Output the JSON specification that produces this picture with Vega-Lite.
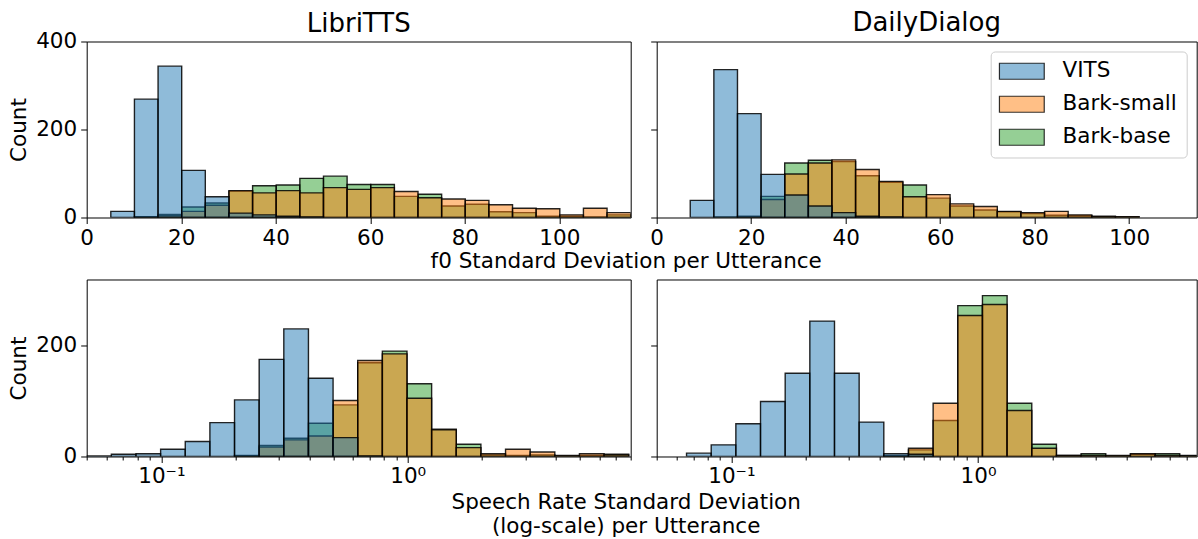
{
  "$schema": "https://vega.github.io/schema/vega-lite/v6.json",
  "background": "white",
  "padding": {"left": 7.7, "top": 9.5, "right": 0, "bottom": 0},
  "config": {
    "font": "DejaVu Sans",
    "view": {"stroke": "black", "strokeWidth": 1},
    "axis": {"grid": false, "domain": false, "tickColor": "black", "tickSize": 6, "tickWidth": 1, "labelFontSize": 21.5, "labelColor": "black", "labelFont": "DejaVu Sans", "titleFontSize": 21.5, "titleFont": "DejaVu Sans", "titleColor": "black", "titleFontWeight": "normal", "labelFlush": false, "labelOverlap": false},
    "title": {"fontSize": 26, "fontWeight": "normal", "font": "DejaVu Sans", "color": "black", "anchor": "middle", "baseline": "alphabetic", "offset": -6.2}
  },
  "datasets": {
    "libF0": [
      {"model": "Bark-base", "lo": 10.1, "hi": 15.1, "count": 2},
      {"model": "Bark-base", "lo": 15.1, "hi": 20.1, "count": 7},
      {"model": "Bark-base", "lo": 20.1, "hi": 25.1, "count": 24},
      {"model": "Bark-base", "lo": 25.1, "hi": 30.1, "count": 33},
      {"model": "Bark-base", "lo": 30.1, "hi": 35.1, "count": 60},
      {"model": "Bark-base", "lo": 35.1, "hi": 40.1, "count": 72},
      {"model": "Bark-base", "lo": 40.1, "hi": 45.1, "count": 74},
      {"model": "Bark-base", "lo": 45.1, "hi": 50.1, "count": 89},
      {"model": "Bark-base", "lo": 50.1, "hi": 55.1, "count": 94},
      {"model": "Bark-base", "lo": 55.1, "hi": 60.1, "count": 75},
      {"model": "Bark-base", "lo": 60.1, "hi": 65.1, "count": 75},
      {"model": "Bark-base", "lo": 65.1, "hi": 70.1, "count": 48},
      {"model": "Bark-base", "lo": 70.1, "hi": 75.1, "count": 53},
      {"model": "Bark-base", "lo": 75.1, "hi": 80.1, "count": 26},
      {"model": "Bark-base", "lo": 80.1, "hi": 85.1, "count": 30},
      {"model": "Bark-base", "lo": 85.1, "hi": 90.1, "count": 13},
      {"model": "Bark-base", "lo": 90.1, "hi": 95.1, "count": 11},
      {"model": "Bark-base", "lo": 95.1, "hi": 100.1, "count": 3},
      {"model": "Bark-base", "lo": 100.1, "hi": 105.1, "count": 3},
      {"model": "Bark-base", "lo": 105.1, "hi": 110.1, "count": 1},
      {"model": "Bark-base", "lo": 110.1, "hi": 115.1, "count": 6},
      {"model": "Bark-small", "lo": 10.1, "hi": 15.1, "count": 1},
      {"model": "Bark-small", "lo": 15.1, "hi": 20.1, "count": 4},
      {"model": "Bark-small", "lo": 20.1, "hi": 25.1, "count": 14},
      {"model": "Bark-small", "lo": 25.1, "hi": 30.1, "count": 28},
      {"model": "Bark-small", "lo": 30.1, "hi": 35.1, "count": 61},
      {"model": "Bark-small", "lo": 35.1, "hi": 40.1, "count": 56},
      {"model": "Bark-small", "lo": 40.1, "hi": 45.1, "count": 61},
      {"model": "Bark-small", "lo": 45.1, "hi": 50.1, "count": 56},
      {"model": "Bark-small", "lo": 50.1, "hi": 55.1, "count": 68},
      {"model": "Bark-small", "lo": 55.1, "hi": 60.1, "count": 64},
      {"model": "Bark-small", "lo": 60.1, "hi": 65.1, "count": 68},
      {"model": "Bark-small", "lo": 65.1, "hi": 70.1, "count": 59},
      {"model": "Bark-small", "lo": 70.1, "hi": 75.1, "count": 45},
      {"model": "Bark-small", "lo": 75.1, "hi": 80.1, "count": 42},
      {"model": "Bark-small", "lo": 80.1, "hi": 85.1, "count": 39},
      {"model": "Bark-small", "lo": 85.1, "hi": 90.1, "count": 29},
      {"model": "Bark-small", "lo": 90.1, "hi": 95.1, "count": 21},
      {"model": "Bark-small", "lo": 95.1, "hi": 100.1, "count": 20},
      {"model": "Bark-small", "lo": 100.1, "hi": 105.1, "count": 6},
      {"model": "Bark-small", "lo": 105.1, "hi": 110.1, "count": 21},
      {"model": "Bark-small", "lo": 110.1, "hi": 115.1, "count": 11},
      {"model": "VITS", "lo": 5.1, "hi": 10.1, "count": 14},
      {"model": "VITS", "lo": 10.1, "hi": 15.1, "count": 269},
      {"model": "VITS", "lo": 15.1, "hi": 20.1, "count": 344},
      {"model": "VITS", "lo": 20.1, "hi": 25.1, "count": 107},
      {"model": "VITS", "lo": 25.1, "hi": 30.1, "count": 47},
      {"model": "VITS", "lo": 30.1, "hi": 35.1, "count": 10},
      {"model": "VITS", "lo": 35.1, "hi": 40.1, "count": 6},
      {"model": "VITS", "lo": 40.1, "hi": 45.1, "count": 3},
      {"model": "VITS", "lo": 45.1, "hi": 50.1, "count": 1}
    ],
    "dailyF0": [
      {"model": "Bark-base", "lo": 12.1, "hi": 17.1, "count": 1},
      {"model": "Bark-base", "lo": 17.1, "hi": 22.1, "count": 3},
      {"model": "Bark-base", "lo": 22.1, "hi": 27.1, "count": 48},
      {"model": "Bark-base", "lo": 27.1, "hi": 32.1, "count": 124},
      {"model": "Bark-base", "lo": 32.1, "hi": 37.1, "count": 130},
      {"model": "Bark-base", "lo": 37.1, "hi": 42.1, "count": 127},
      {"model": "Bark-base", "lo": 42.1, "hi": 47.1, "count": 95},
      {"model": "Bark-base", "lo": 47.1, "hi": 52.1, "count": 80},
      {"model": "Bark-base", "lo": 52.1, "hi": 57.1, "count": 74},
      {"model": "Bark-base", "lo": 57.1, "hi": 62.1, "count": 44},
      {"model": "Bark-base", "lo": 62.1, "hi": 67.1, "count": 26},
      {"model": "Bark-base", "lo": 67.1, "hi": 72.1, "count": 17},
      {"model": "Bark-base", "lo": 72.1, "hi": 77.1, "count": 13},
      {"model": "Bark-base", "lo": 77.1, "hi": 82.1, "count": 9},
      {"model": "Bark-base", "lo": 82.1, "hi": 87.1, "count": 5},
      {"model": "Bark-base", "lo": 87.1, "hi": 92.1, "count": 4},
      {"model": "Bark-base", "lo": 92.1, "hi": 97.1, "count": 2},
      {"model": "Bark-base", "lo": 97.1, "hi": 102.1, "count": 1},
      {"model": "Bark-small", "lo": 17.1, "hi": 22.1, "count": 2},
      {"model": "Bark-small", "lo": 22.1, "hi": 27.1, "count": 41},
      {"model": "Bark-small", "lo": 27.1, "hi": 32.1, "count": 99},
      {"model": "Bark-small", "lo": 32.1, "hi": 37.1, "count": 124},
      {"model": "Bark-small", "lo": 37.1, "hi": 42.1, "count": 131},
      {"model": "Bark-small", "lo": 42.1, "hi": 47.1, "count": 109},
      {"model": "Bark-small", "lo": 47.1, "hi": 52.1, "count": 82},
      {"model": "Bark-small", "lo": 52.1, "hi": 57.1, "count": 47},
      {"model": "Bark-small", "lo": 57.1, "hi": 62.1, "count": 52},
      {"model": "Bark-small", "lo": 62.1, "hi": 67.1, "count": 31},
      {"model": "Bark-small", "lo": 67.1, "hi": 72.1, "count": 25},
      {"model": "Bark-small", "lo": 72.1, "hi": 77.1, "count": 14},
      {"model": "Bark-small", "lo": 77.1, "hi": 82.1, "count": 11},
      {"model": "Bark-small", "lo": 82.1, "hi": 87.1, "count": 14},
      {"model": "Bark-small", "lo": 87.1, "hi": 92.1, "count": 6},
      {"model": "Bark-small", "lo": 92.1, "hi": 97.1, "count": 3},
      {"model": "Bark-small", "lo": 97.1, "hi": 102.1, "count": 2},
      {"model": "VITS", "lo": 7.1, "hi": 12.1, "count": 39},
      {"model": "VITS", "lo": 12.1, "hi": 17.1, "count": 336},
      {"model": "VITS", "lo": 17.1, "hi": 22.1, "count": 236},
      {"model": "VITS", "lo": 22.1, "hi": 27.1, "count": 98},
      {"model": "VITS", "lo": 27.1, "hi": 32.1, "count": 51},
      {"model": "VITS", "lo": 32.1, "hi": 37.1, "count": 26},
      {"model": "VITS", "lo": 37.1, "hi": 42.1, "count": 11},
      {"model": "VITS", "lo": 42.1, "hi": 47.1, "count": 3},
      {"model": "VITS", "lo": 47.1, "hi": 52.1, "count": 1}
    ],
    "libSR": [
      {"model": "Bark-base", "lo": 0.198153, "hi": 0.249459, "count": 2},
      {"model": "Bark-base", "lo": 0.249459, "hi": 0.314051, "count": 20},
      {"model": "Bark-base", "lo": 0.314051, "hi": 0.395367, "count": 33},
      {"model": "Bark-base", "lo": 0.395367, "hi": 0.497737, "count": 60},
      {"model": "Bark-base", "lo": 0.497737, "hi": 0.626614, "count": 93},
      {"model": "Bark-base", "lo": 0.626614, "hi": 0.78886, "count": 169},
      {"model": "Bark-base", "lo": 0.78886, "hi": 0.993116, "count": 190},
      {"model": "Bark-base", "lo": 0.993116, "hi": 1.250262, "count": 131},
      {"model": "Bark-base", "lo": 1.250262, "hi": 1.573982, "count": 49},
      {"model": "Bark-base", "lo": 1.573982, "hi": 1.981526, "count": 22},
      {"model": "Bark-base", "lo": 1.981526, "hi": 2.494592, "count": 3},
      {"model": "Bark-base", "lo": 2.494592, "hi": 3.140511, "count": 2},
      {"model": "Bark-base", "lo": 3.140511, "hi": 3.953667, "count": 3},
      {"model": "Bark-base", "lo": 3.953667, "hi": 4.977369, "count": 1},
      {"model": "Bark-base", "lo": 4.977369, "hi": 6.266135, "count": 2},
      {"model": "Bark-base", "lo": 6.266135, "hi": 7.888597, "count": 4},
      {"model": "Bark-small", "lo": 0.198153, "hi": 0.249459, "count": 1},
      {"model": "Bark-small", "lo": 0.249459, "hi": 0.314051, "count": 17},
      {"model": "Bark-small", "lo": 0.314051, "hi": 0.395367, "count": 30},
      {"model": "Bark-small", "lo": 0.395367, "hi": 0.497737, "count": 37},
      {"model": "Bark-small", "lo": 0.497737, "hi": 0.626614, "count": 101},
      {"model": "Bark-small", "lo": 0.626614, "hi": 0.78886, "count": 173},
      {"model": "Bark-small", "lo": 0.78886, "hi": 0.993116, "count": 185},
      {"model": "Bark-small", "lo": 0.993116, "hi": 1.250262, "count": 105},
      {"model": "Bark-small", "lo": 1.250262, "hi": 1.573982, "count": 48},
      {"model": "Bark-small", "lo": 1.573982, "hi": 1.981526, "count": 16},
      {"model": "Bark-small", "lo": 1.981526, "hi": 2.494592, "count": 5},
      {"model": "Bark-small", "lo": 2.494592, "hi": 3.140511, "count": 13},
      {"model": "Bark-small", "lo": 3.140511, "hi": 3.953667, "count": 8},
      {"model": "Bark-small", "lo": 3.953667, "hi": 4.977369, "count": 2},
      {"model": "Bark-small", "lo": 4.977369, "hi": 6.266135, "count": 5},
      {"model": "Bark-small", "lo": 6.266135, "hi": 7.888597, "count": 3},
      {"model": "VITS", "lo": 0.049774, "hi": 0.062661, "count": 1},
      {"model": "VITS", "lo": 0.062661, "hi": 0.078886, "count": 4},
      {"model": "VITS", "lo": 0.078886, "hi": 0.099312, "count": 5},
      {"model": "VITS", "lo": 0.099312, "hi": 0.125026, "count": 13},
      {"model": "VITS", "lo": 0.125026, "hi": 0.157398, "count": 27},
      {"model": "VITS", "lo": 0.157398, "hi": 0.198153, "count": 61},
      {"model": "VITS", "lo": 0.198153, "hi": 0.249459, "count": 102},
      {"model": "VITS", "lo": 0.249459, "hi": 0.314051, "count": 175},
      {"model": "VITS", "lo": 0.314051, "hi": 0.395367, "count": 230},
      {"model": "VITS", "lo": 0.395367, "hi": 0.497737, "count": 141},
      {"model": "VITS", "lo": 0.497737, "hi": 0.626614, "count": 34},
      {"model": "VITS", "lo": 0.626614, "hi": 0.78886, "count": 1}
    ],
    "dailySR": [
      {"model": "Bark-base", "lo": 0.414955, "hi": 0.522398, "count": 1},
      {"model": "Bark-base", "lo": 0.522398, "hi": 0.65766, "count": 12},
      {"model": "Bark-base", "lo": 0.65766, "hi": 0.827944, "count": 65},
      {"model": "Bark-base", "lo": 0.827944, "hi": 1.042321, "count": 272},
      {"model": "Bark-base", "lo": 1.042321, "hi": 1.312204, "count": 290},
      {"model": "Bark-base", "lo": 1.312204, "hi": 1.651967, "count": 96},
      {"model": "Bark-base", "lo": 1.651967, "hi": 2.079704, "count": 22},
      {"model": "Bark-base", "lo": 2.079704, "hi": 2.618192, "count": 2},
      {"model": "Bark-base", "lo": 2.618192, "hi": 3.296108, "count": 5},
      {"model": "Bark-base", "lo": 3.296108, "hi": 4.149553, "count": 1},
      {"model": "Bark-base", "lo": 4.149553, "hi": 5.223978, "count": 4},
      {"model": "Bark-base", "lo": 5.223978, "hi": 6.5766, "count": 5},
      {"model": "Bark-base", "lo": 6.5766, "hi": 8.279447, "count": 2},
      {"model": "Bark-small", "lo": 0.414955, "hi": 0.522398, "count": 1},
      {"model": "Bark-small", "lo": 0.522398, "hi": 0.65766, "count": 15},
      {"model": "Bark-small", "lo": 0.65766, "hi": 0.827944, "count": 96},
      {"model": "Bark-small", "lo": 0.827944, "hi": 1.042321, "count": 254},
      {"model": "Bark-small", "lo": 1.042321, "hi": 1.312204, "count": 274},
      {"model": "Bark-small", "lo": 1.312204, "hi": 1.651967, "count": 83},
      {"model": "Bark-small", "lo": 1.651967, "hi": 2.079704, "count": 15},
      {"model": "Bark-small", "lo": 2.079704, "hi": 2.618192, "count": 2},
      {"model": "Bark-small", "lo": 2.618192, "hi": 3.296108, "count": 2},
      {"model": "Bark-small", "lo": 3.296108, "hi": 4.149553, "count": 2},
      {"model": "Bark-small", "lo": 4.149553, "hi": 5.223978, "count": 5},
      {"model": "Bark-small", "lo": 5.223978, "hi": 6.5766, "count": 2},
      {"model": "Bark-small", "lo": 6.5766, "hi": 8.279447, "count": 1},
      {"model": "VITS", "lo": 0.065766, "hi": 0.082795, "count": 6},
      {"model": "VITS", "lo": 0.082795, "hi": 0.104233, "count": 21},
      {"model": "VITS", "lo": 0.104233, "hi": 0.13122, "count": 59},
      {"model": "VITS", "lo": 0.13122, "hi": 0.165197, "count": 99},
      {"model": "VITS", "lo": 0.165197, "hi": 0.20797, "count": 150},
      {"model": "VITS", "lo": 0.20797, "hi": 0.261819, "count": 244},
      {"model": "VITS", "lo": 0.261819, "hi": 0.329611, "count": 150},
      {"model": "VITS", "lo": 0.329611, "hi": 0.414955, "count": 62},
      {"model": "VITS", "lo": 0.414955, "hi": 0.522398, "count": 5},
      {"model": "VITS", "lo": 0.522398, "hi": 0.65766, "count": 4}
    ]
  },
  "columns": 2,
  "spacing": {"row": 62, "column": 26},
  "bounds": "flush",
  "resolve": {"scale": {"x": "independent", "y": "independent"}, "legend": {"color": "independent"}},
  "concat": [
    {
      "width": 544, "height": 176,
      "title": {"text": "LibriTTS", "offset": -6.2},
      "data": {"name": "libF0"},
      "mark": {"type": "bar", "fillOpacity": 0.5, "stroke": "black", "strokeWidth": 1.4, "strokeOpacity": 0.85, "clip": true},
      "encoding": {
        "x": {"field": "lo", "type": "quantitative", "scale": {"domain": [0, 115.1], "nice": false, "zero": false},
              "axis": {"values": [0, 20, 40, 60, 80, 100], "format": "d", "labelPadding": 4, "title": "f0 Standard Deviation per Utterance", "titleX": 539, "titleY": 49.8, "titleBaseline": "alphabetic", "titleAlign": "center"}},
        "x2": {"field": "hi"},
        "y": {"field": "count", "type": "quantitative", "stack": null, "scale": {"domain": [0, 400], "nice": false},
              "axis": {"values": [0, 200, 400], "labelPadding": 4, "title": "Count", "titleX": -60.7, "titleY": 88, "titleBaseline": "alphabetic", "titleAngle": -90, "titleAlign": "center"}},
        "y2": {"datum": 0},
        "color": {"field": "model", "type": "nominal", "scale": {"domain": ["VITS", "Bark-small", "Bark-base"], "range": ["#1f77b4", "#ff7f0e", "#2ca02c"]}, "legend": null}
      }
    },
    {
      "width": 540, "height": 176,
      "title": {"text": "DailyDialog", "offset": 4.6},
      "data": {"name": "dailyF0"},
      "mark": {"type": "bar", "fillOpacity": 0.5, "stroke": "black", "strokeWidth": 1.4, "strokeOpacity": 0.85, "clip": true},
      "encoding": {
        "x": {"field": "lo", "type": "quantitative", "scale": {"domain": [0, 114.3], "nice": false, "zero": false},
              "axis": {"values": [0, 20, 40, 60, 80, 100], "format": "d", "labelPadding": 4, "title": null}},
        "x2": {"field": "hi"},
        "y": {"field": "count", "type": "quantitative", "stack": null, "scale": {"domain": [0, 400], "nice": false},
              "axis": {"values": [0, 200, 400], "labels": false, "title": null}},
        "y2": {"datum": 0},
        "color": {"field": "model", "type": "nominal", "scale": {"domain": ["VITS", "Bark-small", "Bark-base"], "range": ["#1f77b4", "#ff7f0e", "#2ca02c"]},
                  "legend": {"orient": "top-right", "offset": 10, "title": null, "labelFontSize": 21.5, "labelFont": "DejaVu Sans", "labelColor": "black",
                             "symbolType": "M-2.8,-1H2.8V1H-2.8Z", "symbolSize": 256, "symbolOffset": 11.4, "labelOffset": 30, "rowPadding": 10, "padding": 9,
                             "fillColor": "white", "strokeColor": "#cccccc", "cornerRadius": 4, "symbolStrokeColor": "black", "symbolStrokeWidth": 1.2,
                             "encode": {"symbols": {"update": {"fillOpacity": {"value": 0.5}, "strokeOpacity": {"value": 0.8}}}}}}
      }
    },
    {
      "width": 544, "height": 177,
      "data": {"name": "libSR"},
      "mark": {"type": "bar", "fillOpacity": 0.5, "stroke": "black", "strokeWidth": 1.4, "strokeOpacity": 0.85, "clip": true},
      "encoding": {
        "x": {"field": "lo", "type": "quantitative", "scale": {"type": "log", "domain": [0.04977, 8.035], "nice": false},
              "axis": {"values": [0.05, 0.06, 0.07, 0.08, 0.09, 0.1, 0.2, 0.3, 0.4, 0.5, 0.6, 0.7, 0.8, 0.9, 1, 2, 3, 4, 5, 6, 7, 8],
                       "labelExpr": "datum.value == 0.1 ? '10⁻¹' : (datum.value == 1 ? '10⁰' : '')",
                       "tickSize": {"condition": {"test": "datum.value == 0.1 || datum.value == 1", "value": 6}, "value": 3.5},
                       "labelPadding": 3,
                       "title": ["Speech Rate Standard Deviation", "(log-scale) per Utterance"], "titleLineHeight": 24.4,
                       "titleX": 539, "titleY": 52, "titleBaseline": "alphabetic", "titleAlign": "center"}},
        "x2": {"field": "hi"},
        "y": {"field": "count", "type": "quantitative", "stack": null, "scale": {"domain": [0, 319], "nice": false},
              "axis": {"values": [0, 200], "labelPadding": 4, "title": "Count", "titleX": -60.7, "titleY": 88.5, "titleBaseline": "alphabetic", "titleAngle": -90, "titleAlign": "center"}},
        "y2": {"datum": 0},
        "color": {"field": "model", "type": "nominal", "scale": {"domain": ["VITS", "Bark-small", "Bark-base"], "range": ["#1f77b4", "#ff7f0e", "#2ca02c"]}, "legend": null}
      }
    },
    {
      "width": 540, "height": 177,
      "data": {"name": "dailySR"},
      "mark": {"type": "bar", "fillOpacity": 0.5, "stroke": "black", "strokeWidth": 1.4, "strokeOpacity": 0.85, "clip": true},
      "encoding": {
        "x": {"field": "lo", "type": "quantitative", "scale": {"type": "log", "domain": [0.04977, 7.705], "nice": false},
              "axis": {"values": [0.05, 0.06, 0.07, 0.08, 0.09, 0.1, 0.2, 0.3, 0.4, 0.5, 0.6, 0.7, 0.8, 0.9, 1, 2, 3, 4, 5, 6, 7],
                       "labelExpr": "datum.value == 0.1 ? '10⁻¹' : (datum.value == 1 ? '10⁰' : '')",
                       "tickSize": {"condition": {"test": "datum.value == 0.1 || datum.value == 1", "value": 6}, "value": 3.5},
                       "labelPadding": 3, "title": null}},
        "x2": {"field": "hi"},
        "y": {"field": "count", "type": "quantitative", "stack": null, "scale": {"domain": [0, 319], "nice": false},
              "axis": {"values": [0, 200], "labels": false, "title": null}},
        "y2": {"datum": 0},
        "color": {"field": "model", "type": "nominal", "scale": {"domain": ["VITS", "Bark-small", "Bark-base"], "range": ["#1f77b4", "#ff7f0e", "#2ca02c"]}, "legend": null}
      }
    }
  ]
}
